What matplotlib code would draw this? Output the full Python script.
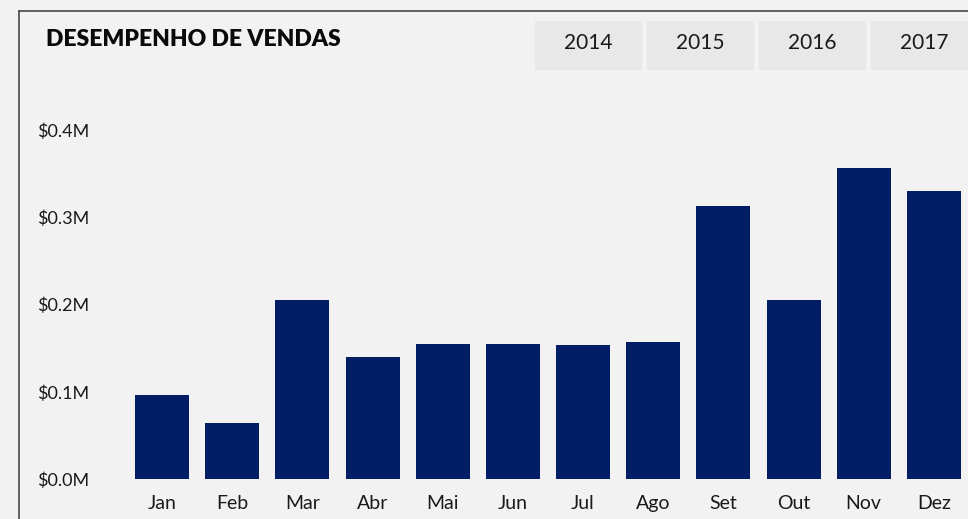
import matplotlib
matplotlib.use("Agg")
import matplotlib.pyplot as plt
from matplotlib.patches import Rectangle
from matplotlib.ticker import FuncFormatter

meses = ["Jan", "Feb", "Mar", "Abr", "Mai", "Jun", "Jul", "Ago", "Set", "Out", "Nov", "Dez"]
vendas = [96700, 64600, 205600, 140200, 155200, 155200, 154000, 157500, 313400, 205600, 356000, 330600]
anos = ["2014", "2015", "2016", "2017"]
y_ticks = [0, 100000, 200000, 300000, 400000]

BG = "#f2f2f2"
NAVY = "#001d66"
FONT = ["Lato", "DejaVu Sans"]

W, H = 968, 519
fig = plt.figure(figsize=(W / 100, H / 100), dpi=100, facecolor=BG)

# frame of the visual (top and left edges visible)
fig.add_artist(plt.Line2D([18.7 / W, 1.0], [1 - 10.7 / H] * 2, color="#555555", lw=1.3))
fig.add_artist(plt.Line2D([18.7 / W] * 2, [0, 1 - 10.7 / H], color="#555555", lw=1.3))

fig.text(46 / W, 1 - 40 / H, "DESEMPENHO DE VENDAS", fontsize=16.5, fontweight="heavy",
         family=FONT, color="#0a0a0a", va="center", ha="left")

# year slicer buttons
for i, ano in enumerate(anos):
    x0 = 535 + i * 112
    fig.add_artist(Rectangle((x0 / W, 1 - 70 / H), 107 / W, 49 / H,
                             transform=fig.transFigure, facecolor="#e8e8e8", edgecolor="none"))
    fig.text((x0 + 53.5) / W, 1 - 43 / H, ano, fontsize=15, family=FONT,
             color="#1a1a1a", ha="center", va="center")

ax = fig.add_axes([127 / W, (H - 479.3) / H, (969 - 127) / W, (479.3 - 130) / H])
ax.set_facecolor(BG)
ax.bar(range(len(meses)), vendas, width=0.77, color=NAVY)
ax.set_xlim(-0.5, 11.5)
ax.set_ylim(0, 400000)
ax.set_yticks(y_ticks)
ax.yaxis.set_major_formatter(FuncFormatter(lambda v, _: f"${v / 1e6:.1f}M"))
ax.set_xticks(range(len(meses)))
ax.set_xticklabels(meses)
for s in ax.spines.values():
    s.set_visible(False)
ax.tick_params(axis="both", length=0, labelcolor="#1a1a1a")
ax.tick_params(axis="y", labelsize=13, pad=90 * 0.72)
ax.tick_params(axis="x", labelsize=14, pad=11)
for lbl in ax.get_yticklabels() + ax.get_xticklabels():
    lbl.set_family(FONT)
for lbl in ax.get_yticklabels():
    lbl.set_horizontalalignment("left")

fig.savefig("out.png", dpi=100, facecolor=BG)
